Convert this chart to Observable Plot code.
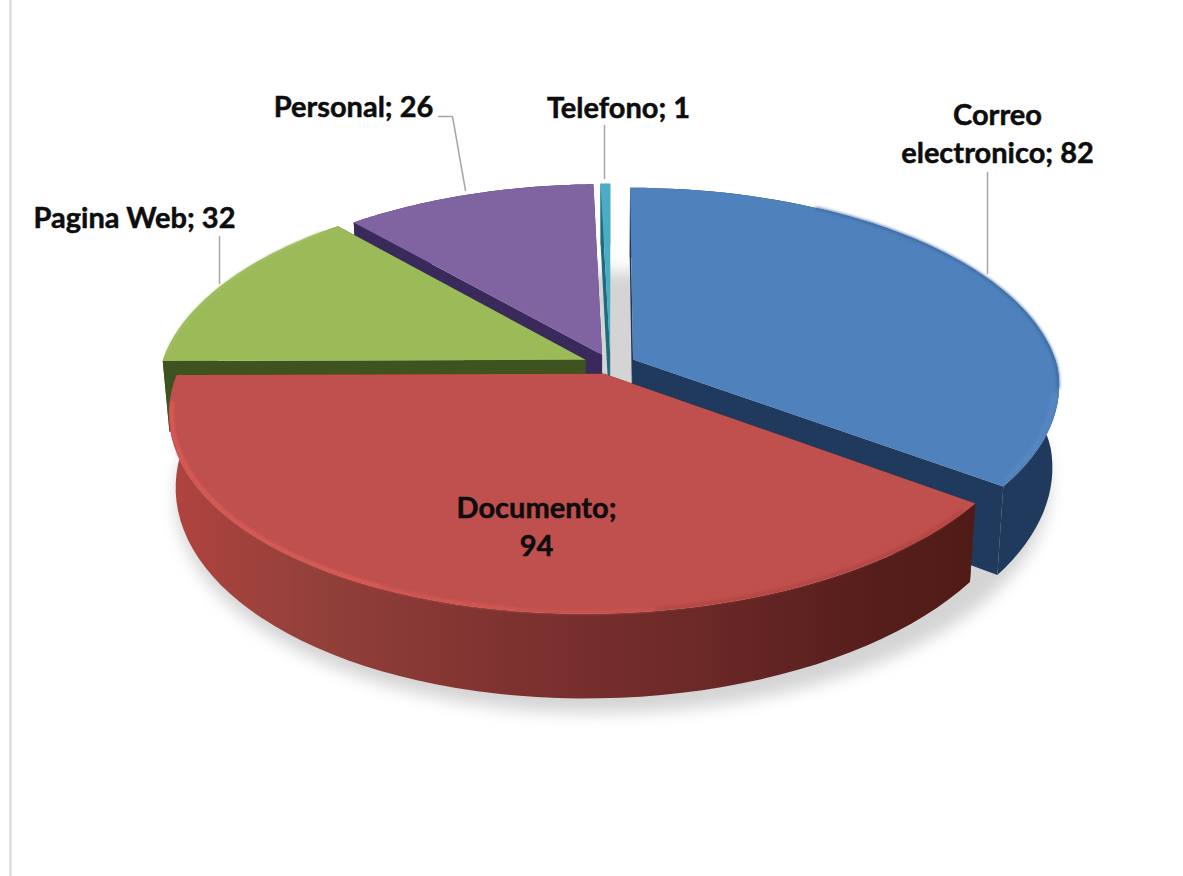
<!DOCTYPE html>
<html>
<head>
<meta charset="utf-8">
<script src="https://cdn.jsdelivr.net/npm/d3@7"></script>
<script src="https://cdn.jsdelivr.net/npm/@observablehq/plot@0.6"></script>
<style>html,body{margin:0;padding:0;background:#fff}svg{display:block}</style>
</head>
<body>
<div id="chart"></div>
<script>
// data (clockwise from 12 o'clock)
const categories = ["Correo electronico", "Documento", "Pagina Web", "Personal", "Telefono"];
const values = [82, 94, 32, 26, 1];
const labelTexts = ["Correo\nelectronico; 82", "Documento;\n94", "Pagina Web; 32", "Personal; 26", "Telefono; 1"];

// styles
const topColors = ["#4f81bd", "#c0504d", "#9bbb59", "#8064a2", "#4bacc6"];
const wallColors = ["#1f3a5c", "url(#redWall)", "#3f5321", "#3a2a5c", "#1f6a7c"];
const cutColors = ["#1f3a5c", "#5a1f1b", "#3f5321", "#3a2a5c", "#1f6a7c"];
const paintOrder = [3, 4, 2, 0, 1];

// layout
const W = 1183, H = 876;
const cx = 610, cy = 364.5, a = 424, b = 200, p = 0.155, nearShear = 15;
const explode = [0.06, 0.045, 0.065, 0.055, 0.055];
const depths = [81, 71, 71, 71, 71];
const shrinks = [0.985, 0.985, 0.985, 0.985, 0.985];
const labelX = [997, 536, 134, 353, 618];
const labelY = [131, 524, 215, 104, 105];
const leaders = [
  [[987, 172], [987, 273]],
  [[219, 236], [219, 283]],
  [[438, 116], [452, 116], [465, 190]],
  [[604, 125], [604, 178]]
];

// perspective projection of the pie plane
function project(u, v, depth = 0, shrink = 1) {
  const w = 1 - p * v;
  const V = v / w;
  let X = cx + a * u / w - nearShear * Math.max(0, V), Y = cy + b * V;
  X = cx + (X - cx) * shrink; Y += depth / w;
  return {x: X, y: Y};
}
const total = d3.sum(values);
let acc = 0;
const slices = values.map((val, i) => {
  const t0 = acc / total * 2 * Math.PI; acc += val;
  const t1 = acc / total * 2 * Math.PI, m = (t0 + t1) / 2;
  return {i, t0, t1, ex: explode[i] * Math.sin(m), ey: -explode[i] * Math.cos(m), d: depths[i], sh: shrinks[i]};
});
const at = (s, t, r, low) => low
  ? project(s.ex + r * Math.sin(t), s.ey - r * Math.cos(t), s.d, s.sh)
  : project(s.ex + r * Math.sin(t), s.ey - r * Math.cos(t));
const arc = (s, t0, t1, r, low) => d3.range(0, 61).map(k => at(s, t0 + (t1 - t0) * k / 60, r, low));

const poly = (pts, fill, extra = {}) => Plot.line(pts, {x: "x", y: "y", fill, stroke: "none", ...extra});

const defs = () => {
  const d = d3.create("svg:defs");
  const g = d.append("linearGradient").attr("id", "redWall").attr("gradientUnits", "userSpaceOnUse")
    .attr("x1", 170).attr("x2", 975).attr("y1", 0).attr("y2", 0);
  [[0, "#b0433f"], [0.18, "#93403a"], [0.42, "#7e3230"], [0.65, "#6c2928"], [0.85, "#581f1c"], [1, "#4f1b17"]]
    .forEach(([o, c]) => g.append("stop").attr("offset", o).attr("stop-color", c));
  return d.node();
};

const marks = [defs, Plot.ruleX([10], {stroke: "#dcdcdc", strokeWidth: 2.5})];

// soft shadow
const whole = {ex: 0.012, ey: 0.03, d: 71, sh: 1};
const shadowPts = d3.range(0, 121).map(k => at(whole, k / 120 * 2 * Math.PI, 1.012, true));
marks.push(poly(shadowPts.map(q => ({x: q.x, y: q.y + 15})), "#d4d4d4", {imageFilter: "blur(8px)"}));

// slices, back to front
for (const i of paintOrder) {
  const s = slices[i];
  const apexT = project(s.ex, s.ey), apexB = project(s.ex, s.ey, s.d, s.sh);
  marks.push(poly([apexT, at(s, s.t0, 1), at(s, s.t0, 1, true), apexB], cutColors[i]));
  marks.push(poly([apexT, at(s, s.t1, 1), at(s, s.t1, 1, true), apexB], cutColors[i]));
  marks.push(poly([...arc(s, s.t0, s.t1, 1), ...arc(s, s.t1, s.t0, 1, true)], wallColors[i]));
  marks.push(poly([apexT, ...arc(s, s.t0, s.t1, 1)], topColors[i]));
}

// bevel highlights
const rim = (i, d0, d1, r, stroke, strokeWidth, blur) => {
  const rad = Math.PI / 180;
  return Plot.line(arc(slices[i], d0 * rad, d1 * rad, r), {
    x: "x", y: "y", stroke, strokeWidth, imageFilter: `blur(${blur}px)`
  });
};
marks.push(rim(1, 128, 172, 0.993, "#b04541", 3, 1.5));
marks.push(rim(1, 172, 188, 0.994, "#c9554f", 3, 1.5));
marks.push(rim(1, 188, 205, 0.994, "#d75853", 3, 1.5));
marks.push(rim(1, 205, 262, 0.994, "#e05d58", 3, 1.5));
marks.push(rim(0, 30, 98, 0.998, "#3a6aa3", 2.5, 1.5));
marks.push(rim(0, 100, 124, 0.99, "#5f8cc2", 3, 2));
marks.push(rim(2, 272, 316, 0.997, "#a5c066", 2, 1));

// leader lines
for (const l of leaders) {
  marks.push(Plot.line(l.map(([x, y]) => ({x, y})), {x: "x", y: "y", stroke: "#a6a6a6", strokeWidth: 1.5}));
}

// labels
marks.push(Plot.text(labelTexts, {
  x: (d, i) => labelX[i], y: (d, i) => labelY[i], text: d => d,
  fontSize: 29, fontWeight: 700, fontFamily: "Lato", fill: "#0d0d0d", stroke: "#0d0d0d", strokeWidth: 0.5,
  textAnchor: "middle", lineHeight: 1.32
}));

const chart = Plot.plot({
  width: W, height: H, margin: 0,
  x: {domain: [0, W], range: [0, W], axis: null},
  y: {domain: [0, H], range: [0, H], axis: null},
  style: {background: "#fff"},
  marks
});
document.getElementById("chart").append(chart);
</script>
</body>
</html>
